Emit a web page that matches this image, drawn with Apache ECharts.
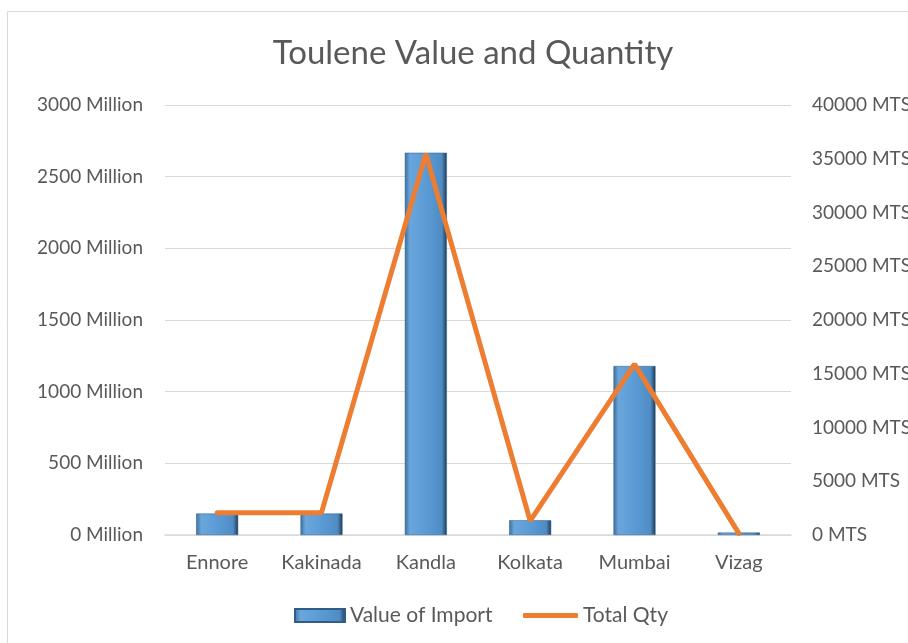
<!DOCTYPE html>
<html>
<head>
<meta charset="utf-8">
<script src="https://cdn.jsdelivr.net/npm/echarts@6/dist/echarts.min.js"></script>
<style>
  html, body { margin: 0; padding: 0; background: #fff; }
  #chart { width: 908px; height: 643px; }
</style>
</head>
<body>
<div id="chart"></div>
<script>
// ports
const ports = ['Ennore', 'Kakinada', 'Kandla', 'Kolkata', 'Mumbai', 'Vizag']
// value of import, million
const importValue = [150, 150, 2667, 103, 1179, 17]
// total quantity, MTS
const totalQty = [2080, 2080, 35450, 1320, 15900, 150]

const leftTicks = { min: 0, max: 3000, interval: 500 }
const rightTicks = { min: 0, max: 40000, interval: 5000 }

const textColor = '#595959'
const fontFamily = 'Lato, "Open Sans", sans-serif'

const chart = echarts.init(document.getElementById('chart'))

const barFill = new echarts.graphic.LinearGradient(0, 0, 1, 0, [
  { offset: 0, color: '#3b6e9c' },
  { offset: 0.12, color: '#6aa6dc' },
  { offset: 0.5, color: '#5b9bd5' },
  { offset: 0.88, color: '#4f8cc4' },
  { offset: 1, color: '#1e3a56' }
])

const option = {
  backgroundColor: '#fff',
  animation: false,
  textStyle: { fontFamily: fontFamily },
  graphic: [{
    type: 'rect',
    shape: { x: 7.5, y: 11.5, width: 1000, height: 700 },
    style: { fill: 'none', stroke: '#d9d9d9', lineWidth: 1 },
    silent: true
  }],
  title: {
    text: 'Toulene Value and Quantity',
    left: 468,
    top: 32,
    textAlign: 'center',
    textStyle: { color: textColor, fontSize: 33, fontWeight: 'normal', fontFamily: fontFamily }
  },
  legend: [
    {
      bottom: 12,
      left: 289,
      itemWidth: 50,
      itemHeight: 13,
      icon: 'rect',
      textStyle: { color: textColor, fontSize: 21, fontFamily: fontFamily },
      data: [{ name: 'Value of Import', itemStyle: { color: barFill } }]
    },
    {
      bottom: 12,
      left: 518,
      itemWidth: 55,
      itemHeight: 5,
      icon: 'roundRect',
      textStyle: { color: textColor, fontSize: 21, fontFamily: fontFamily },
      data: [{ name: 'Total Qty', itemStyle: { color: '#ED7D31' } }]
    }
  ],
  grid: { left: 165, right: 117, top: 105, bottom: 108, outerBoundsMode: 'none' },
  xAxis: {
    type: 'category',
    data: ports,
    axisLine: { lineStyle: { color: '#d9d9d9', width: 1.5 } },
    axisTick: { show: false },
    axisLabel: { color: textColor, fontSize: 20, margin: 18, interval: 0 }
  },
  yAxis: [
    {
      type: 'value',
      min: leftTicks.min,
      max: leftTicks.max,
      interval: leftTicks.interval,
      axisLine: { show: false },
      axisTick: { show: false },
      axisLabel: { color: textColor, fontSize: 19, margin: 22, formatter: v => v + ' Million' },
      splitLine: { lineStyle: { color: '#d9d9d9' } }
    },
    {
      type: 'value',
      min: rightTicks.min,
      max: rightTicks.max,
      interval: rightTicks.interval,
      axisLine: { show: false },
      axisTick: { show: false },
      axisLabel: { color: textColor, fontSize: 19, margin: 21, formatter: v => v + ' MTS' },
      splitLine: { show: false }
    }
  ],
  series: [
    {
      name: 'Value of Import',
      type: 'bar',
      data: importValue,
      barWidth: 42,
      itemStyle: { color: barFill, borderColor: '#2f5d87', borderWidth: 0.5 }
    },
    {
      name: 'Total Qty',
      type: 'line',
      yAxisIndex: 1,
      data: totalQty,
      symbol: 'none',
      lineStyle: { color: '#ED7D31', width: 5, cap: 'round' },
      itemStyle: { color: '#ED7D31' }
    }
  ]
}

chart.setOption(option)
</script>
</body>
</html>
